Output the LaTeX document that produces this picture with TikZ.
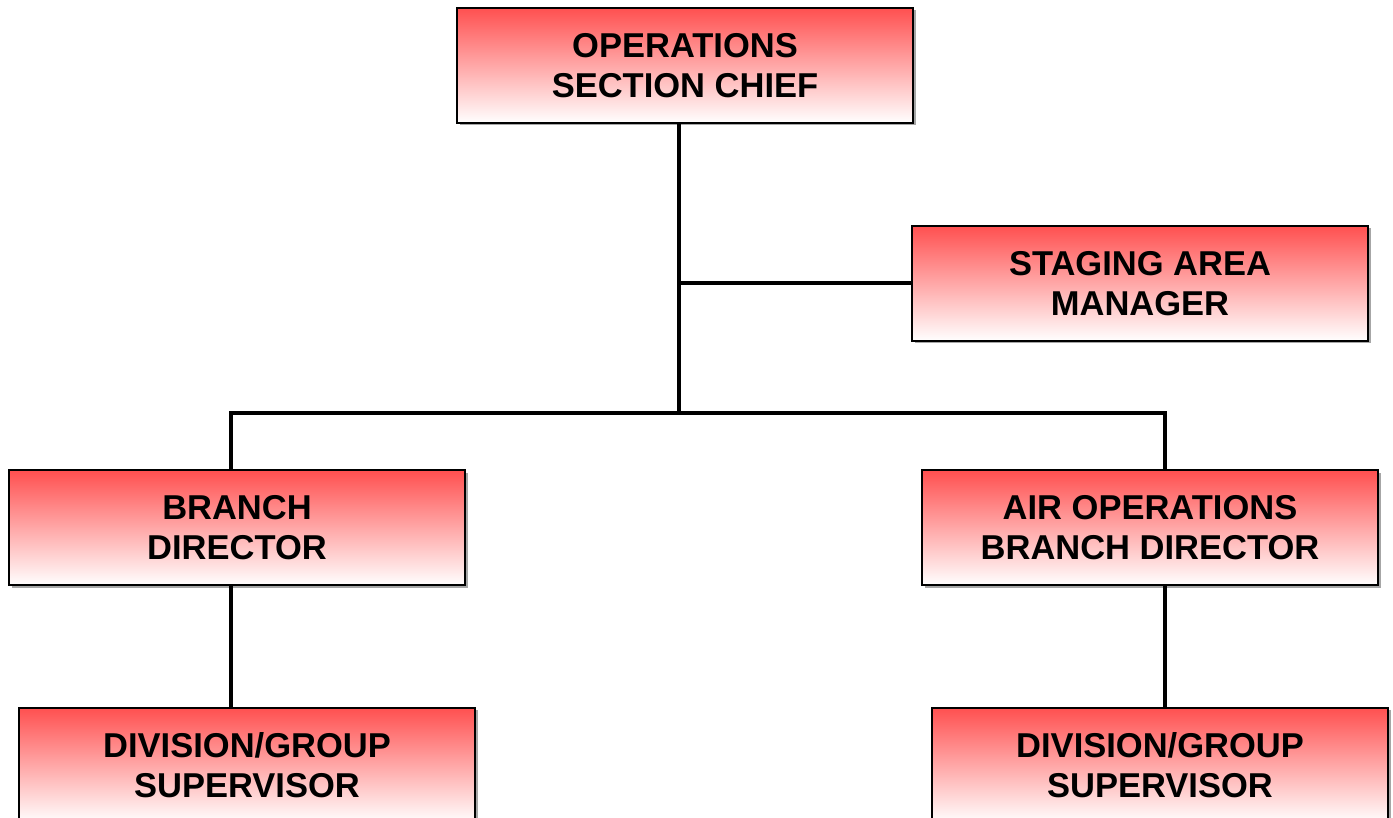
\documentclass[tikz,border=0pt]{standalone}
\usepackage{fontspec}
\setmainfont{Liberation Sans}
\usepackage{tikz}
\usetikzlibrary{shapes,shadows}
\definecolor{boxred}{RGB}{255,80,80}
\tikzstyle{ics}=[x=1pt,y=1pt, every node/.style={rectangle,draw=black,line width=2pt,
                minimum width=456pt,minimum height=115pt,top color=boxred,bottom color=white,
                align=center,text=black,font=\fontsize{34.5}{40}\selectfont\bfseries,
                drop shadow={shadow xshift=2.5pt,shadow yshift=-2.5pt,fill=black!35,opacity=1}}]
\tikzstyle{link}=[line width=4pt,draw=black]

\begin{document}
\begin{tikzpicture}[ics]
    \path[use as bounding box,clip] (0,0) rectangle (1393,818);
    \node (ops) at (685,752.5) {OPERATIONS\\SECTION CHIEF};
    \node (stage) at (1140,534.5) {STAGING AREA\\MANAGER};
    \node (branch) at (237,290) {BRANCH\\DIRECTOR};
    \node (air) at (1150,290) {AIR OPERATIONS\\BRANCH DIRECTOR};
    \node (divL) at (247,52.5) {DIVISION/GROUP\\SUPERVISOR};
    \node (divR) at (1160,52.5) {DIVISION/GROUP\\SUPERVISOR};
    % junctions
    \coordinate (mid) at (679,535);
    \coordinate (bus) at (679,405);
    \coordinate (ltee) at (231,405);
    \coordinate (rtee) at (1164.5,405);
    \draw[link] (ops.south -| bus) -- (bus);
    \draw[link] (mid) -- (stage.west |- mid);
    \draw[link] (branch.north -| ltee) -- (ltee) -- (rtee) -- (air.north -| rtee);
    \draw[link] (branch.south -| ltee) -- (divL.north -| ltee);
    \draw[link] (air.south -| rtee) -- (divR.north -| rtee);
\end{tikzpicture}
\end{document}
